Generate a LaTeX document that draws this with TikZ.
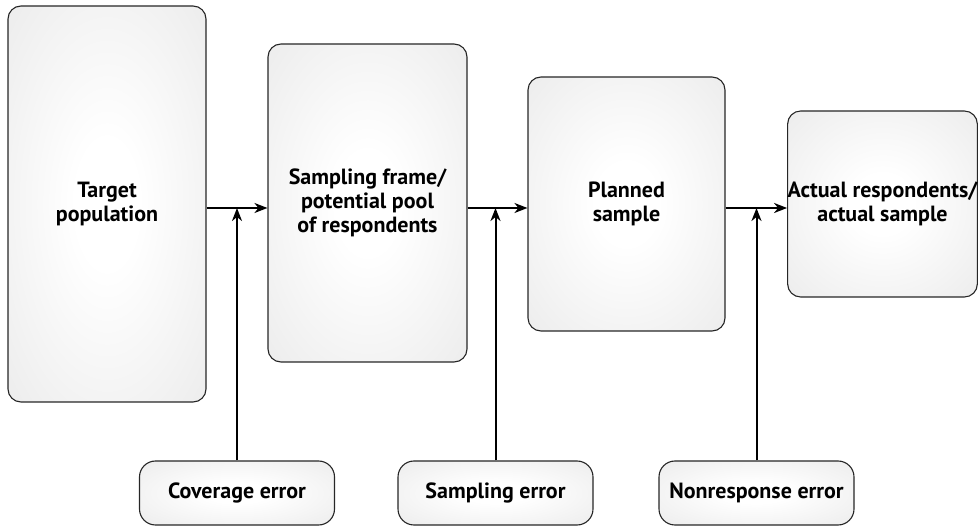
\documentclass[tikz,border=0pt]{standalone}
\usepackage{fontspec}
\setmainfont{PT Sans}
\usepackage{tikz}
\usetikzlibrary{arrows.meta}
\pgfdeclareradialshading{softglow}{\pgfpoint{0bp}{0bp}}{color(0bp)=(white); color(8bp)=(white); color(46bp)=(black!10); color(50bp)=(black!10)}

\begin{document}
\begin{tikzpicture}[x=1pt,y=-1pt,
        stagebox/.style={draw=black!85,line width=1.1pt,rounded corners=13pt,
            shading=softglow,
            align=center,font=\fontsize{22}{24}\selectfont\bfseries},
        errorbox/.style={stagebox,rounded corners=16pt,
            minimum width=195pt,minimum height=64pt},
        flow/.style={line width=2pt,-{Stealth[length=13pt,width=10pt,inset=4pt]}}
    ]
        \useasboundingbox (0,0) rectangle (978,526);
        \node[stagebox,minimum width=198pt,minimum height=396pt] (target) at (107,204) {Target\\population};
        \node[stagebox,minimum width=199pt,minimum height=318pt] (frame) at (367.5,203) {Sampling frame/\\potential pool\\of respondents};
        \node[stagebox,minimum width=197pt,minimum height=254pt] (planned) at (626.5,204) {Planned\\sample};
        \node[stagebox,minimum width=189pt,minimum height=186pt,inner sep=0pt] (actual) at (882.5,204) {Actual respondents/\\actual sample};
        \node[errorbox] (cov) at (237,493) {Coverage error};
        \node[errorbox] (samp) at (495.5,493) {Sampling error};
        \node[errorbox] (nonr) at (756.5,493) {Nonresponse error};
        \coordinate (mid) at (0,208);
        \foreach \a/\b/\e in {target/frame/cov, frame/planned/samp, planned/actual/nonr} {
            \draw[flow] (\a.east |- mid) -- (\b.west |- mid);
            \draw[flow] (\e.north) -- (\e.north |- mid);
        }
    \end{tikzpicture}
\end{document}
